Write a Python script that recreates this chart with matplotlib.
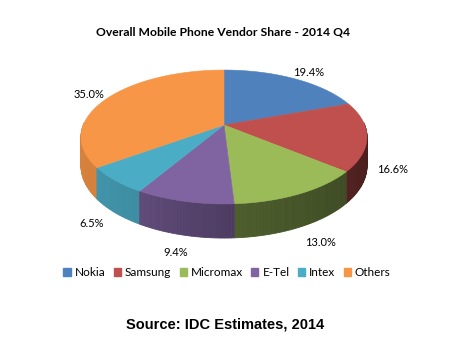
import numpy as np
import matplotlib
matplotlib.use("Agg")
import matplotlib.pyplot as plt
from matplotlib.patches import Polygon, Patch

# Dados
vendors = ['Nokia', 'Samsung', 'Micromax', 'E-Tel', 'Intex', 'Others']
shares = [19.4, 16.6, 13.0, 9.4, 6.5, 35.0]
colors = ['#4F81BD', '#C0504D', '#9BBB59', '#8064A2', '#4BACC6', '#F79646']
# sombreamento da lateral (esquerda, direita) por fatia
side_shade = [(0.40, 0.40), (0.42, 0.33), (0.50, 0.40), (0.75, 0.60), (0.86, 0.82), (0.90, 0.86)]

# Geometria do "3D" em pixels da figura
CX, CY = 224, 125      # centro projetado
RX, RY = 140.7, 64.8   # raios
K = 0.179              # perspectiva
T = 28                 # espessura


def proj(x, z, drop=0.0):
    w = 1 + K * z
    return CX + RX * x / w, CY - (RY * z - drop) / w


def shade(c, f):
    r, g, b = matplotlib.colors.to_rgb(c)
    return (r * f, g * f, b * f)


fig = plt.figure(figsize=(4.77, 3.53), dpi=100)
ax = fig.add_axes([0, 0, 1, 1])
ax.set_xlim(0, 477)
ax.set_ylim(353, 0)
ax.axis('off')

total = sum(shares)
bounds = np.concatenate([[0], np.cumsum(shares)]) / total * 360.0

# Laterais (somente metade da frente), de tras para frente
segs = []
for i in range(len(shares)):
    a0, a1 = max(bounds[i], 88), min(bounds[i + 1], 272)
    if a1 <= a0:
        continue
    n = max(2, int((a1 - a0) / 1.0))
    angs = np.linspace(a0, a1, n + 1)
    for j in range(n):
        p1, p2 = np.radians(angs[j]), np.radians(angs[j + 1])
        pts = [proj(np.sin(p1), np.cos(p1)), proj(np.sin(p2), np.cos(p2)),
               proj(np.sin(p2), np.cos(p2), T), proj(np.sin(p1), np.cos(p1), T)]
        t = (angs[j] - bounds[i]) / (bounds[i + 1] - bounds[i])
        # esquerda da tela = angulo maior
        fl, fr = side_shade[i]
        f = fr + (fl - fr) * t
        zc = np.cos((p1 + p2) / 2)
        segs.append((zc, pts, shade(colors[i], f)))

segs.sort(key=lambda s: -s[0])
for zc, pts, c in segs:
    ax.add_patch(Polygon(pts, closed=True, facecolor=c, edgecolor=c, lw=0.6))

# Topo
for i in range(len(shares)):
    angs = np.radians(np.linspace(bounds[i], bounds[i + 1], 80))
    pts = [proj(0, 0)] + [proj(np.sin(a), np.cos(a)) for a in angs]
    ax.add_patch(Polygon(pts, closed=True, facecolor=colors[i], edgecolor=colors[i], lw=0.4))

# Rotulos
for i in range(len(shares)):
    mid = np.radians((bounds[i] + bounds[i + 1]) / 2)
    lado = abs(np.sin(mid)) >= 0.9
    r = 1.16 if lado else 1.2
    x, z = np.sin(mid) * r, np.cos(mid) * r
    drop = 0 if z >= 0 else (T if lado else 0.85 * T)
    lx, ly = proj(x, z, drop)
    ax.text(lx + 2, ly + 2, f"{shares[i]:.1f}%", ha='center', va='center',
            fontsize=8, family='Lato', color='black')

fig.text(0.468, 0.909, 'Overall Mobile Phone Vendor Share - 2014 Q4', ha='center', va='center',
         fontsize=8.7, family='Lato', fontweight='bold')

handles = [Patch(facecolor=c, edgecolor=c) for c in colors]
fig.legend(handles, vendors, loc='center', bbox_to_anchor=(0.476, 0.227), ncol=6, frameon=False,
           handlelength=0.6, handleheight=0.6, handletextpad=0.35, columnspacing=0.7,
           prop={'family': 'Lato', 'size': 8.5})

fig.text(0.472, 0.082, 'Source: IDC Estimates, 2014', ha='center', va='center',
         fontsize=10.5, family='Liberation Sans', fontweight='bold')

plt.savefig('out.png', dpi=100)
plt.close()
